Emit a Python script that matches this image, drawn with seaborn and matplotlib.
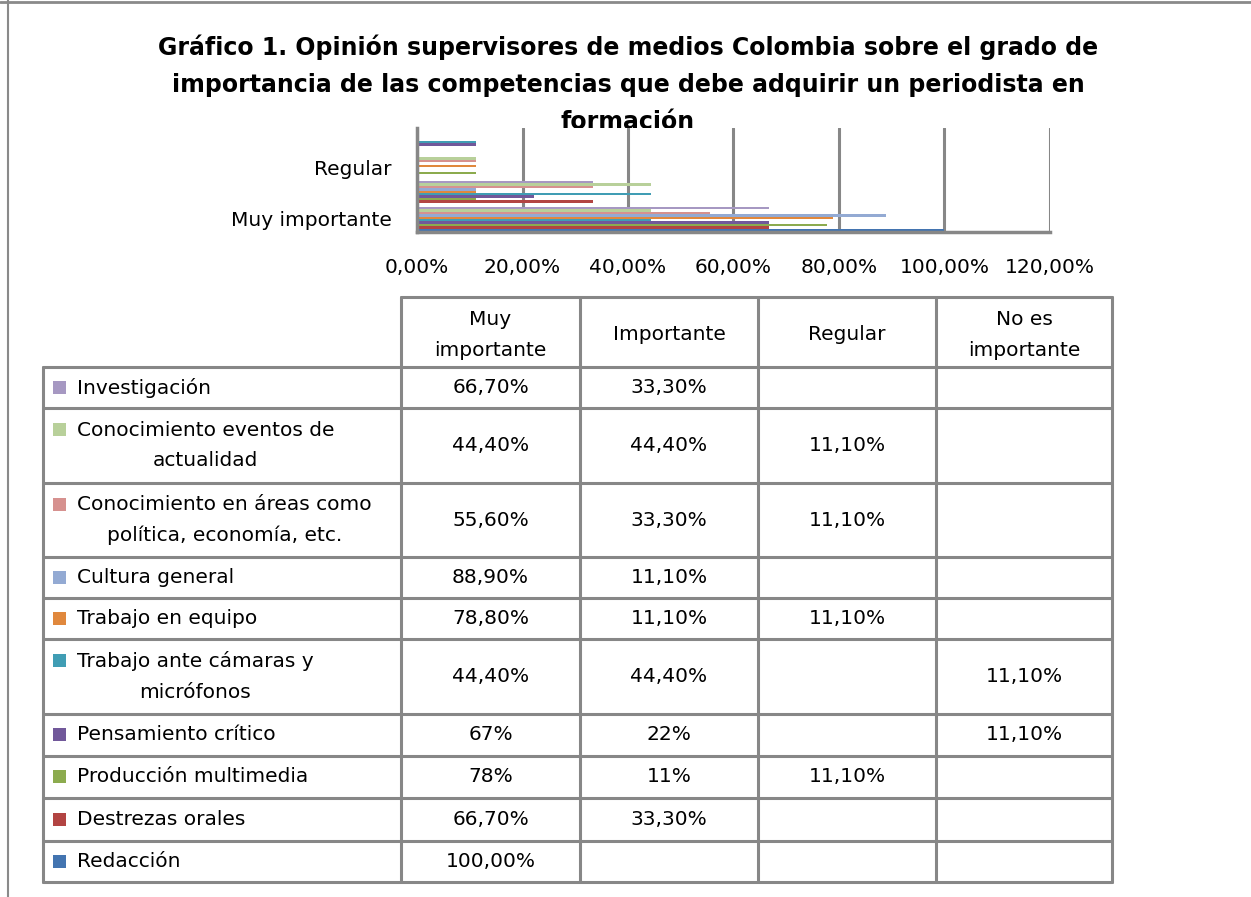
import numpy as np
import pandas as pd
import matplotlib.pyplot as plt
import seaborn as sns
from matplotlib.patches import Rectangle

# === DATOS ===
titulo = ["Gráfico 1. Opinión supervisores de medios Colombia sobre el grado de",
          "importancia de las competencias que debe adquirir un periodista en",
          "formación"]

niveles = ["Muy importante", "Importante", "Regular", "No es importante"]
encabezados = ["Muy\nimportante", "Importante", "Regular", "No es\nimportante"]

# orden de la tabla (de arriba hacia abajo)
competencias = ["Investigación",
                "Conocimiento eventos de\nactualidad",
                "Conocimiento en áreas como\npolítica, economía, etc.",
                "Cultura general",
                "Trabajo en equipo",
                "Trabajo ante cámaras y\nmicrófonos",
                "Pensamiento crítico",
                "Producción multimedia",
                "Destrezas orales",
                "Redacción"]

muy_importante = [66.7, 44.4, 55.6, 88.9, 78.8, 44.4, 66.7, 77.8, 66.7, 100.0]
importante = [33.3, 44.4, 33.3, 11.1, 11.1, 44.4, 22.2, 11.1, 33.3, np.nan]
regular = [np.nan, 11.1, 11.1, np.nan, 11.1, np.nan, np.nan, 11.1, np.nan, np.nan]
no_importante = [np.nan, np.nan, np.nan, np.nan, np.nan, 11.1, 11.1, np.nan, np.nan, np.nan]

# decimales con que aparece cada celda en la tabla
decimales = {"Muy importante": [2, 2, 2, 2, 2, 2, 0, 0, 2, 2],
             "Importante": [2, 2, 2, 2, 2, 2, 0, 0, 2, 2],
             "Regular": [2] * 10,
             "No es importante": [2] * 10}

colores = ["#A698C2", "#B8D09A", "#D6918F", "#93AAD3", "#E0883D",
           "#409DB4", "#71589A", "#8CAB4E", "#B24442", "#4374B0"]

ticks_x = [0, 20, 40, 60, 80, 100, 120]

# === TABLA LARGA PARA SEABORN ===
valores = {"Muy importante": muy_importante, "Importante": importante,
           "Regular": regular, "No es importante": no_importante}
filas = []
for nivel in niveles:
    for comp, v in zip(competencias, valores[nivel]):
        filas.append({"nivel": nivel, "competencia": comp, "valor": v})
df = pd.DataFrame(filas).dropna()

# === FIGURA ===
W, H = 1251, 897
sns.set_style("white")
plt.rcParams['font.family'] = ['DejaVu Sans']
plt.rcParams['text.color'] = 'black'
plt.rcParams['xtick.color'] = 'black'
plt.rcParams['ytick.color'] = 'black'
GRIS = "#878787"
FS = 14.5

fig = plt.figure(figsize=(W / 100, H / 100), dpi=100)

# capa en píxeles para marco, título y tabla de datos
capa = fig.add_axes([0, 0, 1, 1])
capa.set_xlim(0, W)
capa.set_ylim(H, 0)
capa.axis('off')

capa.plot([0, W], [2, 2], color="#8a8a8a", lw=2)
capa.plot([8, 8], [0, H], color="#8a8a8a", lw=1.5)

for y, linea in zip([47, 85, 122], titulo):
    capa.text(628, y, linea, ha='center', va='center', fontsize=17,
              fontweight='bold')

# --- gráfico de barras ---
ax = fig.add_axes([417 / W, 1 - 232 / H, 633 / W, 104 / H])
sns.barplot(data=df, y="nivel", x="valor", hue="competencia",
            order=niveles[::-1], hue_order=competencias,
            palette=colores, orient='h', width=0.92, gap=0,
            errorbar=None, linewidth=0, saturation=1, legend=False, ax=ax)
ax.set_xlim(0, 120)
ax.set_ylim(3.5, -0.5)
ax.set_xticks(ticks_x)
ax.set_xticklabels([f"{t:.2f}%".replace('.', ',') for t in ticks_x])
ax.set_yticks([3, 1])
ax.set_yticklabels(["Muy importante", "Regular"])
ax.tick_params(axis='x', length=0, labelsize=FS, pad=19)
ax.tick_params(axis='y', length=0, labelsize=FS, pad=18)
ax.set_xlabel("")
ax.set_ylabel("")
ax.grid(axis='x', color=GRIS, linewidth=2.2)
ax.set_axisbelow(True)
for lado in ['top', 'right']:
    ax.spines[lado].set_visible(False)
for lado in ['left', 'bottom']:
    ax.spines[lado].set_color(GRIS)
    ax.spines[lado].set_linewidth(2.5)

# --- tabla de datos ---
col_x = [43, 401, 580, 758, 936, 1112]
fila_y = [367, 408, 483, 557, 598, 639, 714, 756, 798, 841, 882]

capa.plot([col_x[1], col_x[-1]], [297, 297], color=GRIS, lw=2.2)
for y in fila_y:
    capa.plot([col_x[0], col_x[-1]], [y, y], color=GRIS, lw=2.2)
capa.plot([col_x[0], col_x[0]], [fila_y[0], fila_y[-1]], color=GRIS, lw=2.2)
for x in col_x[1:]:
    capa.plot([x, x], [297, fila_y[-1]], color=GRIS, lw=2.2)

centros_col = [(a + b) / 2 for a, b in zip(col_x[1:-1], col_x[2:])]
for cx, enc in zip(centros_col, encabezados):
    capa.text(cx, 335, enc, ha='center', va='center', fontsize=FS,
              linespacing=1.75)

for i, comp in enumerate(competencias):
    yc = (fila_y[i] + fila_y[i + 1]) / 2
    y_clave = yc - 15.5 if "\n" in comp else yc
    capa.add_patch(Rectangle((53, y_clave - 6.5), 13, 13, color=colores[i], lw=0))
    capa.text(77, yc, comp, ha='left', va='center', fontsize=FS,
              multialignment='center', linespacing=1.75)
    for cx, nivel in zip(centros_col, niveles):
        v = valores[nivel][i]
        if np.isnan(v):
            continue
        d = decimales[nivel][i]
        capa.text(cx, yc, f"{v:.{d}f}%".replace('.', ','), ha='center',
                  va='center', fontsize=FS)

fig.savefig("out.png", dpi=100)
